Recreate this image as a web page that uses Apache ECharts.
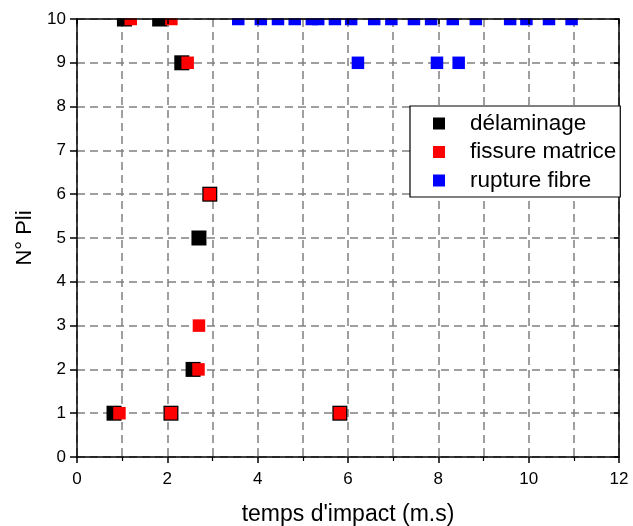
<!DOCTYPE html>
<html>
<head>
<meta charset="utf-8">
<script src="https://cdn.jsdelivr.net/npm/echarts@6/dist/echarts.min.js"></script>
<style>
  html, body { margin: 0; padding: 0; background: #fff; }
  #chart { width: 633px; height: 526px; }
</style>
</head>
<body>
<div id="chart"></div>
<script>
// Impact damage events: time (m.s) vs ply number
const seriesNames = ['délaminage', 'fissure matrice', 'rupture fibre'];

const delamTime = [0.82, 2.08, 5.82, 2.57, 2.70, 2.94, 2.32, 1.05, 1.83];
const delamPly  = [1, 1, 1, 2, 5, 6, 9, 10, 10];

const matrixTime = [0.94, 2.08, 5.82, 2.69, 2.70, 2.94, 2.45, 1.19, 2.09];
const matrixPly  = [1, 1, 1, 2, 3, 6, 9, 10, 10];

const fibreTime = [3.57, 4.07, 4.45, 4.82, 5.20, 5.34, 5.71, 6.07, 6.58, 6.96, 7.46, 7.84, 8.32, 8.83, 9.59, 9.95, 10.45, 10.95, 6.22, 7.97, 8.45];
const fibrePly  = [10, 10, 10, 10, 10, 10, 10, 10, 10, 10, 10, 10, 10, 10, 10, 10, 10, 10, 9, 9, 9];

const xTicks = [0, 2, 4, 6, 8, 10, 12];
const yTicks = [0, 1, 2, 3, 4, 5, 6, 7, 8, 9, 10];

const pairs = (xs, ys) => xs.map((x, i) => [x, ys[i]]);

const FONT = '"Liberation Sans", Arial, sans-serif';
const gridLine = { show: true, lineStyle: { color: '#808080', type: [8, 5], width: 1.5 } };

const GRID = { left: 77, right: 14, top: 19, bottom: 69 };

const chart = echarts.init(document.getElementById('chart'));
chart.setOption({
  animation: false,
  backgroundColor: '#fff',
  grid: Object.assign({ containLabel: false, outerBoundsMode: 'none' }, GRID),
  // markers sitting on the top edge are cut off at the plot frame
  graphic: [{
    type: 'rect', z: 50, silent: true,
    shape: { x: GRID.left + 1, y: 0, width: 633 - GRID.left - GRID.right - 2, height: GRID.top - 0.75 },
    style: { fill: '#fff' }
  }],
  legend: {
    orient: 'vertical',
    left: 410,
    top: 106,
    padding: [6, 4, 5, 23],
    itemGap: 5.5,
    itemWidth: 12,
    itemHeight: 12,
    borderColor: '#000',
    borderWidth: 1.2,
    borderRadius: 0,
    backgroundColor: '#fff',
    z: 10,
    data: [
      { name: seriesNames[0], icon: 'rect', itemStyle: { color: '#000' } },
      { name: seriesNames[1], icon: 'rect', itemStyle: { color: '#ff0000' } },
      { name: seriesNames[2], icon: 'rect', itemStyle: { color: '#0000ff' } }
    ],
    textStyle: { fontFamily: FONT, fontSize: 22.5, color: '#000', padding: [0, 0, 0, 20] }
  },
  xAxis: [
    {
      type: 'value', position: 'bottom', min: 0, max: 12, interval: 2,
      name: 'temps d\'impact (m.s)', nameLocation: 'middle', nameGap: 46,
      nameTextStyle: { fontFamily: FONT, fontSize: 23, color: '#000' },
      axisLine: { show: true, onZero: false, lineStyle: { color: '#000', width: 1.5 } },
      axisTick: { show: true, inside: false, length: 6, lineStyle: { color: '#000', width: 1.5 } },
      minorTick: { show: true, splitNumber: 2, length: 4, lineStyle: { color: '#000', width: 1.2 } },
      axisLabel: {
        fontFamily: FONT, fontSize: 17, color: '#000', margin: 14,
        customValues: xTicks, formatter: v => String(v)
      },
      splitLine: gridLine,
      minorSplitLine: gridLine
    },
    {
      type: 'value', position: 'top', min: 0, max: 12, interval: 2,
      axisLine: { show: true, onZero: false, lineStyle: { color: '#000', width: 1.5 } },
      axisTick: { show: true, inside: true, length: 5, lineStyle: { color: '#000', width: 1.5 } },
      axisLabel: { show: false },
      splitLine: { show: false },
      z: 60
    }
  ],
  yAxis: [
    {
      type: 'value', position: 'left', min: 0, max: 10, interval: 1,
      name: 'N° Pli', nameLocation: 'middle', nameGap: 41,
      nameTextStyle: { fontFamily: FONT, fontSize: 22, color: '#000' },
      axisLine: { show: true, onZero: false, lineStyle: { color: '#000', width: 1.5 } },
      axisTick: { show: true, inside: false, length: 7, lineStyle: { color: '#000', width: 1.5 } },
      axisLabel: {
        fontFamily: FONT, fontSize: 17, color: '#000', margin: 11,
        customValues: yTicks, formatter: v => String(v)
      },
      splitLine: gridLine
    },
    {
      type: 'value', position: 'right', min: 0, max: 10, interval: 1,
      axisLine: { show: true, onZero: false, lineStyle: { color: '#000', width: 1.5 } },
      axisTick: { show: true, inside: true, length: 5, lineStyle: { color: '#000', width: 1.5 } },
      axisLabel: { show: false },
      splitLine: { show: false }
    }
  ],
  series: [
    {
      name: seriesNames[0], type: 'scatter', symbol: 'rect', symbolSize: 15,
      clip: true, z: 2,
      itemStyle: { color: '#000', opacity: 1 },
      data: pairs(delamTime, delamPly)
    },
    {
      name: seriesNames[1], type: 'scatter', symbol: 'rect', symbolSize: 12.5,
      clip: true, z: 3,
      itemStyle: { color: '#ff0000', opacity: 1 },
      data: pairs(matrixTime, matrixPly)
    },
    {
      name: seriesNames[2], type: 'scatter', symbol: 'rect', symbolSize: 12.5,
      clip: true, z: 3,
      itemStyle: { color: '#0000ff', opacity: 1 },
      data: pairs(fibreTime, fibrePly)
    }
  ]
});
</script>
</body>
</html>
